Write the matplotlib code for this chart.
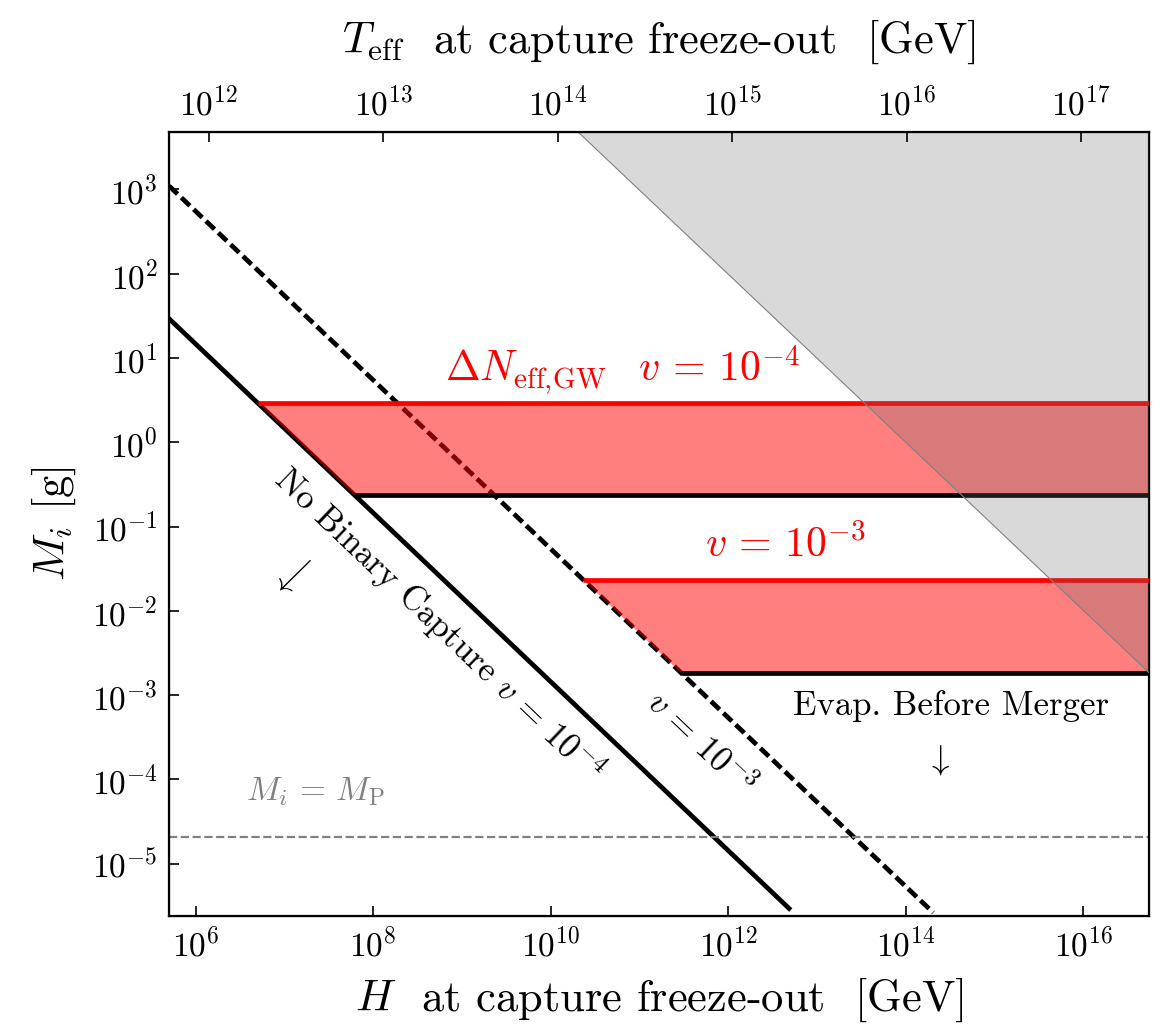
import numpy as np
import matplotlib.pyplot as plt

plt.rcParams['font.family'] = 'serif'
plt.rcParams['font.serif'] = ['cmr10']
plt.rcParams['mathtext.fontset'] = 'cm'
plt.rcParams['axes.formatter.use_mathtext'] = True
plt.rcParams['axes.unicode_minus'] = True

# axis ranges
H_lim = (5.0e5, 5.5e16)
M_lim = (2.4e-6, 4.8e3)
T_lim = (5.9e11, 2.45e17)

H_ticks = [1e6, 1e8, 1e10, 1e12, 1e14, 1e16]
M_ticks = [1e-5, 1e-4, 1e-3, 1e-2, 1e-1, 1e0, 1e1, 1e2, 1e3]
T_ticks = [1e12, 1e13, 1e14, 1e15, 1e16, 1e17]

# binary capture boundaries (end points in the H-M plane)
capture_v4_H = [5.0e5, 4.84e12]
capture_v4_M = [29.3, 2.95e-6]
capture_v3_H = [5.0e5, 2.04e14]
capture_v3_M = [1.1e3, 2.63e-6]

# Delta N_eff,GW bands, (lower, upper) mass in g
band_v4 = (0.236, 2.9)
band_v3 = (1.85e-3, 2.33e-2)

# evaporation before merger boundary
evap_H = [2.03e10, 5.5e16]
evap_M = [4.8e3, 1.85e-3]

M_planck = 2.05e-5


def on_line(H, line_H, line_M):
    return 10 ** np.interp(np.log10(H), np.log10(line_H), np.log10(line_M))


def crossing(M, line_H, line_M):
    return 10 ** np.interp(np.log10(M), np.log10(line_M)[::-1], np.log10(line_H)[::-1])


fig = plt.figure(figsize=(11.6, 10.35), dpi=100)
ax = fig.add_axes([0.1457, 0.115, 0.9905 - 0.1457, 0.8725 - 0.115])
ax.set_xscale('log')
ax.set_yscale('log')
ax.set_xlim(*H_lim)
ax.set_ylim(*M_lim)

lw = 3.4
ax.plot(capture_v4_H, capture_v4_M, color='k', lw=lw, zorder=1)
ax.plot(capture_v3_H, capture_v3_M, color='k', lw=lw, dashes=(2.5, 1.1), zorder=1)

H_grid = np.logspace(np.log10(H_lim[0]), np.log10(H_lim[1]), 3000)
for (lo, hi), line in [(band_v4, (capture_v4_H, capture_v4_M)),
                       (band_v3, (capture_v3_H, capture_v3_M))]:
    lower = np.clip(on_line(H_grid, *line), lo, hi)
    ax.fill_between(H_grid, lower, hi, color='red', alpha=0.5, lw=0, zorder=2)
    ax.plot([crossing(hi, *line), H_lim[1]], [hi, hi], color='red', lw=lw, zorder=3,
            solid_capstyle='butt')
    ax.plot([crossing(lo, *line), H_lim[1]], [lo, lo], color='k', lw=lw, zorder=3,
            solid_capstyle='butt')

ax.fill_between(evap_H, evap_M, M_lim[1], color='#6d6d6d', alpha=0.26, lw=0, zorder=4)
ax.plot(evap_H, evap_M, color='gray', lw=0.8, zorder=4)

ax.axhline(M_planck, color='gray', lw=1.6, ls='--', zorder=1)


def screen_angle(line_H, line_M):
    p = ax.transData.transform(np.column_stack([line_H, line_M]))
    d = p[1] - p[0]
    return np.degrees(np.arctan2(d[1], d[0]))


ang = screen_angle(capture_v4_H, capture_v4_M)
ax.text(5.6e8, 7e-3, r'No Binary Capture $v\,=\,10^{-4}$', fontsize=25,
        rotation=ang, rotation_mode='anchor', ha='center', va='center')
ax.text(4.8e11, 2.67e-4, r'$v\,=\,10^{-3}$', fontsize=25,
        rotation=ang, rotation_mode='anchor', ha='center', va='center')
ax.text(6.5e10, 7.3, r'$\Delta N_{\rm eff,\!GW}\;\;\; v\,=\,10^{-4}$', fontsize=30,
        color='red', ha='center', va='center')
ax.text(4.4e12, 0.06, r'$v\,=\,10^{-3}$', fontsize=30, color='red',
        ha='center', va='center')
ax.text(1.2e7, 0.026, r'$\swarrow$', fontsize=25, ha='center', va='center')
ax.text(3.2e14, 7.5e-4, 'Evap. Before Merger', fontsize=25, ha='center', va='center')
ax.text(2.3e14, 1.68e-4, r'$\downarrow$', fontsize=25, ha='center', va='center')
ax.text(2.2e7, 7.2e-5, r'$M_i\,=\,M_{\rm P}$', fontsize=24, color='gray',
        ha='center', va='center')

ax.set_xticks(H_ticks)
ax.set_yticks(M_ticks)
ax.minorticks_off()
ax.tick_params(direction='in', length=7, width=1.2, labelsize=24, pad=8,
               top=False, right=False)
for s in ax.spines.values():
    s.set_linewidth(1.6)
ax.set_xlabel(r'$H$  at capture freeze-out  [GeV]', fontsize=32, labelpad=10)
ax.set_ylabel(r'$M_i$ [g]', fontsize=32, labelpad=10)

ax_top = ax.twiny()
ax_top.set_xscale('log')
ax_top.set_xlim(*T_lim)
ax_top.set_xticks(T_ticks)
ax_top.minorticks_off()
ax_top.tick_params(direction='in', length=7, width=1.2, labelsize=24, pad=8)
ax_top.set_xlabel(r'$T_{\rm eff}$  at capture freeze-out  [GeV]', fontsize=32, labelpad=24)

fig.savefig('out.png', dpi=100)
